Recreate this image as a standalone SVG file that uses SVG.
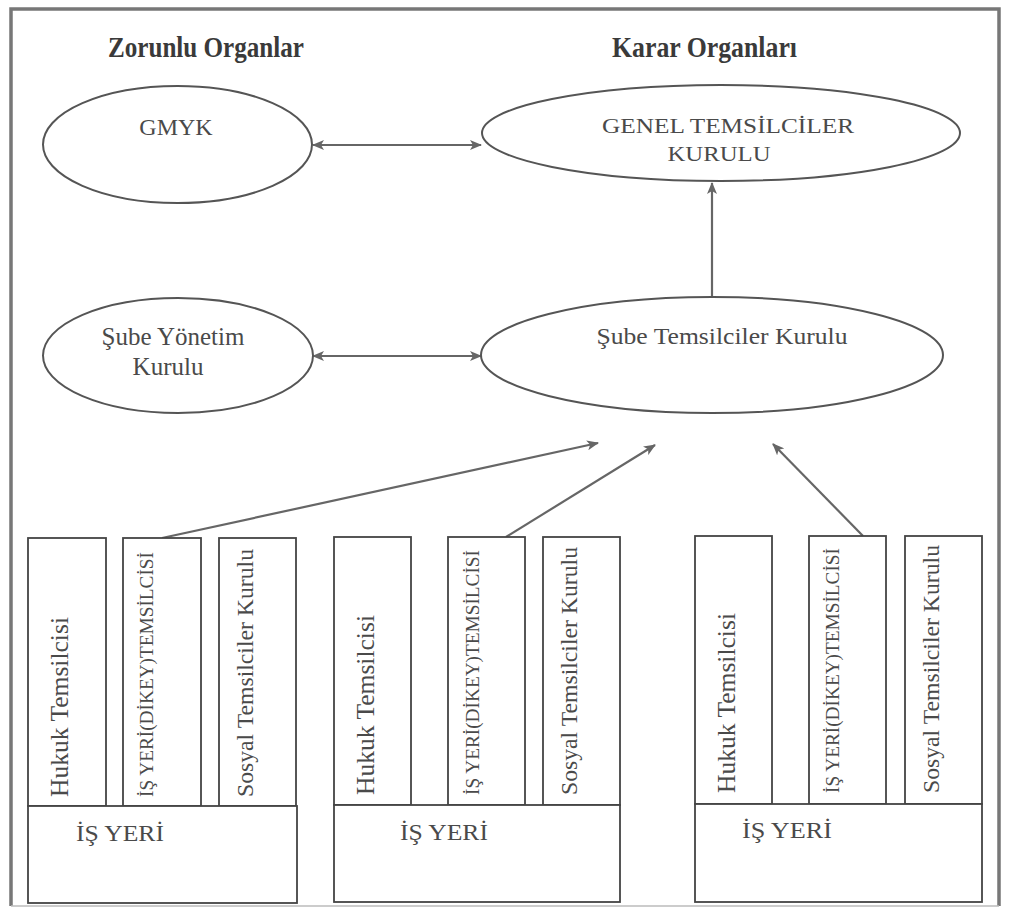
<svg xmlns="http://www.w3.org/2000/svg" width="1009" height="916" viewBox="0 0 1009 916">
<defs>
<marker id="ah" viewBox="0 0 12 10" refX="11" refY="5" markerWidth="12" markerHeight="10" markerUnits="userSpaceOnUse" orient="auto-start-reverse">
<path d="M0,0 L12,5 L0,10 L3,5 z" fill="#666"/>
</marker>
<style>
.el{fill:#fff;stroke:#555;stroke-width:2}
.bx{fill:#fff;stroke:#444;stroke-width:1.8}
.t{font-family:'Liberation Serif','Times New Roman',Times,'DejaVu Serif',serif;fill:#4a4a4a}
.h{font-family:'Liberation Serif','Times New Roman',Times,'DejaVu Serif',serif;font-weight:bold;fill:#3a3a3a;font-size:30px}
.c{stroke:#666;stroke-width:2.2;fill:none}
</style>
</defs>
<rect width="1009" height="916" fill="#fff"/>
<g id="frame">
<path d="M11,906 L11,9 L999,9 L999,906" fill="none" stroke="#777" stroke-width="3.5"/>
<line x1="11" y1="906" x2="999" y2="906" stroke="#bbb" stroke-width="1.5"/>
</g>
<g id="headers">
<text class="h" x="108" y="57" textLength="196" lengthAdjust="spacingAndGlyphs">Zorunlu Organlar</text>
<text class="h" x="612" y="57" textLength="185" lengthAdjust="spacingAndGlyphs">Karar Organları</text>
</g>
<g id="connectors">
<line class="c" x1="313" y1="145" x2="481" y2="145" marker-start="url(#ah)" marker-end="url(#ah)"/>
<line class="c" x1="313" y1="356" x2="481" y2="356" marker-start="url(#ah)" marker-end="url(#ah)"/>
<line class="c" x1="712" y1="297" x2="712" y2="183" marker-end="url(#ah)"/>
<line class="c" x1="162" y1="538" x2="598" y2="443" marker-end="url(#ah)"/>
<line class="c" x1="506" y1="537" x2="655" y2="445" marker-end="url(#ah)"/>
<line class="c" x1="863" y1="536" x2="773" y2="444" marker-end="url(#ah)"/>
</g>
<g id="gmyk">
<ellipse class="el" cx="177.5" cy="144.5" rx="134.5" ry="58.5"/>
<text class="t" x="176" y="135" font-size="24" text-anchor="middle">GMYK</text>
</g>
<g id="gtk">
<ellipse class="el" cx="721" cy="133" rx="239" ry="48"/>
<text class="t" x="728" y="133" font-size="22" text-anchor="middle" textLength="252" lengthAdjust="spacingAndGlyphs">GENEL TEMSİLCİLER</text>
<text class="t" x="719" y="161" font-size="22" text-anchor="middle" textLength="103" lengthAdjust="spacingAndGlyphs">KURULU</text>
</g>
<g id="syk">
<ellipse class="el" cx="178" cy="355.5" rx="135" ry="57.5"/>
<text class="t" x="173" y="345" font-size="25" text-anchor="middle">Şube Yönetim</text>
<text class="t" x="168" y="375" font-size="25" text-anchor="middle">Kurulu</text>
</g>
<g id="stk">
<ellipse class="el" cx="712" cy="355" rx="231" ry="58"/>
<text class="t" x="722" y="344" font-size="24" text-anchor="middle" textLength="251" lengthAdjust="spacingAndGlyphs">Şube Temsilciler Kurulu</text>
</g>
<g id="group1">
<rect class="bx" x="28" y="538" width="78" height="268"/>
<rect class="bx" x="123" y="538" width="78" height="268"/>
<rect class="bx" x="219" y="538" width="77" height="268"/>
<rect class="bx" x="28" y="806" width="269" height="97"/>
<text class="t" transform="translate(68,797) rotate(-90)" font-size="25" textLength="180" lengthAdjust="spacingAndGlyphs">Hukuk Temsilcisi</text>
<text class="t" transform="translate(153,797) rotate(-90)" font-size="19" textLength="245" lengthAdjust="spacingAndGlyphs">İŞ YERİ(DİKEY)TEMSİLCİSİ</text>
<text class="t" transform="translate(253,797) rotate(-90)" font-size="23" textLength="248" lengthAdjust="spacingAndGlyphs">Sosyal Temsilciler Kurulu</text>
<text class="t" x="76" y="841" font-size="24" textLength="88" lengthAdjust="spacingAndGlyphs">İŞ YERİ</text>
</g>
<g id="group2">
<rect class="bx" x="334" y="537" width="77" height="268"/>
<rect class="bx" x="448" y="537" width="77" height="268"/>
<rect class="bx" x="543" y="537" width="77" height="268"/>
<rect class="bx" x="334" y="805" width="286" height="97"/>
<text class="t" transform="translate(374,795) rotate(-90)" font-size="25" textLength="180" lengthAdjust="spacingAndGlyphs">Hukuk Temsilcisi</text>
<text class="t" transform="translate(479,795) rotate(-90)" font-size="19" textLength="245" lengthAdjust="spacingAndGlyphs">İŞ YERİ(DİKEY)TEMSİLCİSİ</text>
<text class="t" transform="translate(577,795) rotate(-90)" font-size="23" textLength="248" lengthAdjust="spacingAndGlyphs">Sosyal Temsilciler Kurulu</text>
<text class="t" x="400" y="840" font-size="24" textLength="88" lengthAdjust="spacingAndGlyphs">İŞ YERİ</text>
</g>
<g id="group3">
<rect class="bx" x="695" y="536" width="77" height="268"/>
<rect class="bx" x="809" y="536" width="77" height="268"/>
<rect class="bx" x="905" y="536" width="77" height="268"/>
<rect class="bx" x="695" y="804" width="287" height="98"/>
<text class="t" transform="translate(735,793) rotate(-90)" font-size="25" textLength="180" lengthAdjust="spacingAndGlyphs">Hukuk Temsilcisi</text>
<text class="t" transform="translate(839,793) rotate(-90)" font-size="19" textLength="245" lengthAdjust="spacingAndGlyphs">İŞ YERİ(DİKEY)TEMSİLCİSİ</text>
<text class="t" transform="translate(939,793) rotate(-90)" font-size="23" textLength="248" lengthAdjust="spacingAndGlyphs">Sosyal Temsilciler Kurulu</text>
<text class="t" x="742" y="838" font-size="24" textLength="90" lengthAdjust="spacingAndGlyphs">İŞ YERİ</text>
</g>
</svg>
